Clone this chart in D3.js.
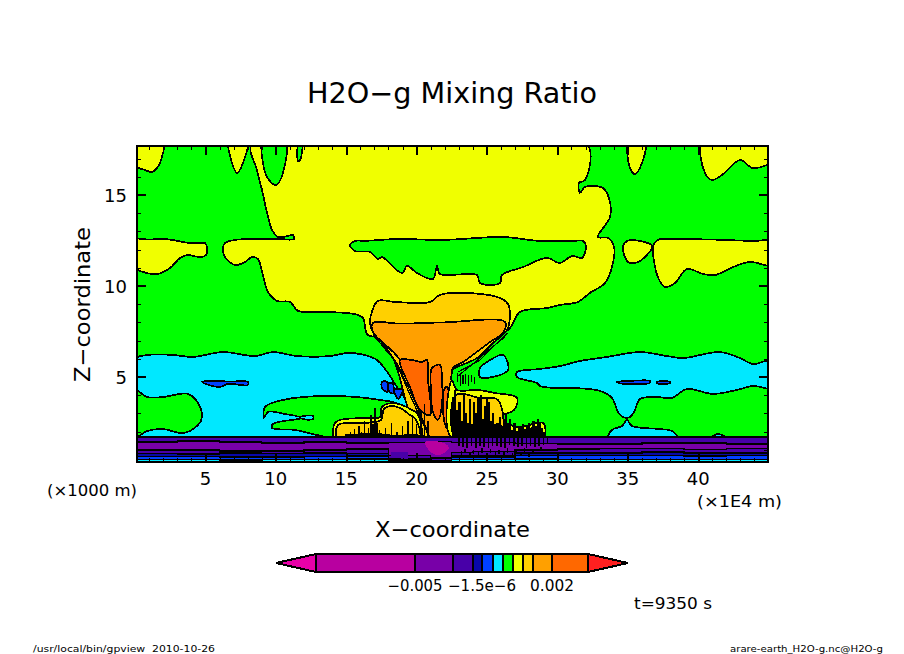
<!DOCTYPE html>
<html>
<head>
<meta charset="utf-8">
<script src="https://cdn.jsdelivr.net/npm/d3@7"></script>
<style>
  html, body { margin: 0; padding: 0; background: #fff; }
  text { font-family: "DejaVu Sans", sans-serif; fill: #000; }
</style>
</head>
<body>
<svg id="chart" width="904" height="654"></svg>
<script>
// tone colours, low to high
const MAGENTA = "#b800a0", PURPLE = "#7800a8", VIOLET = "#4800a8", NAVY = "#0808a8", BLUE = "#0040ff";
const CYAN = "#00e8ff", GREEN = "#00ff00", YELLOW = "#f0ff00", GOLD = "#ffd000", ORANGE = "#ffa000", DARKORANGE = "#ff6800";

const colorbarColors = [MAGENTA, PURPLE, VIOLET, NAVY, BLUE, CYAN, GREEN, YELLOW, GOLD, ORANGE, DARKORANGE];
const colorbarLevels = [-0.01, -0.005, -0.002, -0.0005, -1.5e-6, 1e-4, 3e-4, 5e-4, 8e-4, 0.001, 0.002, 0.005];
const colorbarLabels = [[-0.005, "−0.005", 55], [-1.5e-6, "−1.5e−6", 68], [0.002, "0.002", 44]];

const xMajor = [5, 10, 15, 20, 25, 30, 35, 40];
const zMajor = [5, 10, 15];

// contour regions, [x (1E4 m), z (1000 m)]
const yellowMain = [[8.31,17.8],[8.66,16.37],[9.02,15.27],[9.38,14.01],[9.73,13.08],[10.16,12.69],[10.7,12.72],[11.22,12.8],[11.29,12.58],[10.16,12.58],[7.1,12.53],[6.39,12.36],[6.25,12.14],[6.39,11.59],[7.1,11.15],[7.81,11.32],[8.31,11.59],[8.74,11.48],[9.02,10.77],[9.45,9.67],[10.09,9.18],[11.01,9.12],[11.58,8.63],[13.85,8.57],[16.12,8.3],[16.55,7.31],[18.82,7.31],[25.92,7.31],[26.63,7.69],[27.34,8.57],[29.26,8.79],[30.18,8.96],[31.46,9.12],[32.31,9.62],[33.38,10.16],[33.88,11.04],[34.02,12.14],[33.59,12.64],[32.88,12.69],[33.74,13.79],[33.66,14.84],[33.24,15.38],[31.96,15.44],[31.6,15.11],[31.53,15.66],[31.96,15.82],[32.1,17.8],[20,18.2]];
const yellowLeft = [[-0.2,12.53],[1,12.55],[2.13,12.58],[3.91,12.36],[4.6,12.36],[4.97,12.36],[5.11,12.14],[5.04,11.7],[4.62,11.59],[3.69,11.7],[3.2,11.54],[2.49,10.99],[1.63,10.66],[0.85,10.71],[-0.2,11.1]];
const yellowTopLeft = [[-0.2,18],[1.99,18],[1.85,16.92],[1.56,16.48],[1.21,16.26],[0.71,16.37],[-0.2,16.7]];
const yellowTop2 = [[6.68,18],[6.89,16.76],[7.24,16.21],[7.67,16.76],[7.95,18]];
const yellowTop3 = [[35.09,18],[35.16,16.48],[35.51,16.15],[36.01,16.76],[36.22,18]];
const yellowTopRight = [[40.34,18],[40.48,16.21],[40.98,15.82],[41.69,16.1],[42.97,16.92],[43.89,16.48],[45.3,16.9],[45.3,18]];
const yellowMidRight = [[37.29,12.58],[37.8,12.58],[41,12.55],[44,12.47],[45.3,12.47],[45.3,11.15],[43.68,11.32],[42.47,11.04],[41.19,10.6],[40.34,10.66],[39.2,10.93],[38.35,10.16],[37.64,9.95],[37.14,10.49],[36.79,12.14],[36.95,12.4]];
const yellowMidSmall = [[34.94,12.47],[35.87,12.47],[36.72,12.2],[36.36,11.7],[35.51,11.26],[35.01,11.32],[34.66,12.14]];
const greenPatchTop = [[9.09,18],[10.65,18],[10.51,16.21],[10.01,15.55],[9.38,15.99],[9.09,16.76]];
const greenSliver = [[11.65,18],[11.86,18],[11.72,16.92],[11.58,16.87]];
const greenPatchMid = [[15.27,12.25],[15.62,12.47],[16.4,12.48],[18.61,12.58],[21.88,12.53],[26.14,12.69],[28.76,12.47],[31,12.47],[31.82,12.47],[32.03,12.2],[31.75,11.54],[31.04,11.65],[30.18,11.26],[29.26,11.54],[27.56,11.04],[26.07,10.6],[25.92,10.16],[24.5,10.16],[24.29,10.6],[21.66,10.66],[21.45,11.1],[21.16,10.38],[20.03,10.71],[19.32,11.1],[18.96,10.71],[17.54,11.59],[17.26,11.48],[16.69,11.87],[15.62,11.92]];

const cyanLeft = [[-0.2,5.9],[0.92,6.21],[2.7,6.21],[4.12,6.1],[6.25,6.37],[8.52,6.15],[9.8,6.37],[11.51,6.15],[13.85,6.15],[15.06,6.32],[15.98,6.26],[17.19,5.93],[18.61,4.45],[19.53,3.3],[20.1,1.6],[10,1.4],[-0.2,1.6]];
const cyanRight = [[27.13,5.27],[28.76,5.44],[30.18,5.6],[31.6,5.88],[33.52,6.1],[35.87,6.37],[37.78,6.15],[38.92,6.04],[41.55,6.37],[42.97,6.04],[43.89,5.71],[45.3,5.9],[45.3,4.4],[43.89,4.51],[42.76,4.29],[41.05,4.07],[39.2,4.34],[38.14,3.85],[37.07,3.9],[35.87,3.79],[35.51,3.19],[35.16,2.8],[34.66,2.8],[34.3,3.08],[33.88,3.85],[33.03,4.23],[31.11,4.4],[29.69,4.4],[28.76,4.51],[28.55,4.67],[27.13,5.0]];
const cyanNearCloud = [[24.5,5.49],[25,5.82],[26.14,6.21],[26.49,5.38],[25,4.95],[24.5,5.0]];
const cyanBump = [[33.59,1.6],[33.88,2.09],[34.59,2.31],[34.94,2.64],[35.3,2.31],[37.29,2.14],[38.14,2.03],[38.57,1.6]];
const cyanBump2 = [[40.84,1.6],[41.41,1.87],[42.12,1.6]];
const greenBlob = [[-0.2,4.4],[0.85,3.9],[1.99,3.9],[3.76,4.07],[4.47,3.57],[4.76,2.8],[4.47,2.36],[3.41,1.92],[1.99,2.14],[0.85,2.03],[-0.2,1.6]];
const greenArm = [[9.16,2.75],[9.23,3.35],[10.51,3.74],[13.85,3.96],[17.4,3.74],[18.82,3.46],[19.53,2.36],[19.53,1.6],[14.35,1.6],[12.93,1.81],[11.36,2.09],[9.73,2.2],[9.8,2.42],[11.58,2.69],[11.93,2.75],[10.65,2.97],[9.45,3.08]];
const cyanTip = [[11.72,2.8],[12.64,2.86],[12.64,2.69],[11.93,2.69]];

const blueLeft = [[4.76,4.73],[5.04,4.78],[6.75,4.75],[8.03,4.73],[8.0,4.56],[6.6,4.62],[6.04,4.45],[5.25,4.56]];
const blueRight = [[34.23,4.73],[35.51,4.8],[36.58,4.78],[36.58,4.68],[35.5,4.6],[34.65,4.62]];
const blueRight2 = [[37.07,4.73],[37.99,4.73],[37.99,4.66],[37.07,4.66]];
const blueCloud1 = [[17.54,4.73],[17.9,4.73],[17.9,4.18],[17.54,4.4]];
const blueCloud2 = [[18.04,4.67],[18.32,4.62],[18.32,4.1],[18.04,4.2]];
const blueCloud3 = [[18.4,4.3],[19.0,4.3],[18.7,3.8]];

const cloudGold = [[16.69,7.97],[16.83,8.6],[17.26,9.18],[18.5,9.12],[20.95,9.12],[21.66,9.51],[23.3,9.62],[25.92,9.34],[26.5,9.0],[26.63,8.57],[26.42,7.58],[25.43,6.87],[24.29,6.04],[22.87,5.55],[22.51,5.38],[22.51,1.6],[20.24,1.9],[18.32,6.04],[16.83,7.58]];
const cloudOrange = [[16.9,7.97],[18.82,7.93],[22,8.0],[26.28,8.02],[26.14,7.42],[25.21,6.92],[23.3,5.82],[22.58,5.49],[22.51,1.6],[21.09,1.6],[20.6,2.25],[18.82,5.93],[16.9,7.47]];
const cloudDark = [[18.82,5.93],[19.67,5.93],[20.38,5.82],[20.74,5.93],[20.81,4.84],[20.95,2.91],[20.24,3.19],[19.53,4.45]];
const cloudBlob = [[21.09,5.49],[21.66,5.66],[21.8,4.84],[21.8,3.46],[21.52,2.64],[21.16,3.08],[21.02,4.29]];
const cloudBlob2 = [[21.95,4.29],[22.16,4.45],[22.3,3.19],[22.16,2.2],[21.95,2.64]];
const yellowLowLeft = [[14.2,2.47],[14.55,2.64],[16.19,2.75],[17.4,2.8],[17.54,3.35],[18.25,3.57],[18.96,3.46],[19.67,3.19],[20.03,3.02],[20.24,1.6],[14.2,1.6]];
const goldLowLeft = [[14.42,2.36],[16.34,2.47],[17.47,2.64],[17.68,3.24],[18.25,3.41],[18.96,3.24],[19.53,2.91],[19.96,2.64],[20.17,1.6],[14.42,1.6]];
const yellowLowRight = [[22.51,4.84],[22.87,4.29],[24.29,4.29],[25.57,4.12],[27.13,3.85],[26.92,3.19],[25.92,2.8],[27.13,2.25],[28.98,2.47],[28.98,1.6],[22.51,1.6]];
const goldLowRight = [[22.8,4.01],[24.5,3.85],[25.78,3.74],[25.92,1.6],[22.8,1.6]];
// solid black where the contours run together
const blackBaseRight = [[22.6,1.6],[22.6,2.3],[23.4,2.1],[24.2,2.4],[25,2.2],[25.8,2.5],[26.5,2.1],[27.2,2.05],[28,2.2],[28.6,2.3],[29.1,1.9],[29.1,1.6]];
const blackBaseLeft = [[14.9,1.6],[14.9,1.85],[17,1.95],[18.5,1.8],[20,1.9],[20.5,1.6]];

// extra contour lines packed along the cloud edge
const edgeLines = [
  [[17.76,6.48],[18.47,5.93],[19.53,4.01],[20.6,2.2]],
  [[16.9,7.31],[17.97,6.37],[18.68,5.66],[19.82,3.74],[20.81,1.98]],
  [[26.49,7.42],[25.57,6.76],[24.5,5.93],[22.94,5.27]],
  [[26.28,7.2],[25.21,6.54],[24.15,5.82],[22.94,5.05]]
];

// black streaks of tight contours above the boundary layer
const leftSpikeX = [15.3,15.6,15.9,16.1,16.3,16.6,16.75,16.9,17.05,17.2,17.35,17.8,18.2,18.6,19.0,19.4,19.7,20.0,20.3,20.55,20.8];
const leftSpikeTop = [2.0,2.15,2.3,2.0,2.6,2.2,2.9,2.4,3.3,2.5,2.1,2.2,2.5,2.0,2.3,2.6,2.9,2.4,3.1,3.5,2.6];
const rightSpikeX = [22.6,22.75,22.9,23.05,23.2,23.35,23.5,23.65,23.8,23.95,24.1,24.25,24.4,24.55,24.7,24.85,25.0,25.15,25.3,25.45,25.6,25.75,25.9,26.05,26.2,26.35,26.5,26.65,26.8,26.95,27.1,27.25,27.4,27.55,27.7,27.85,28,28.15,28.3,28.45,28.6,28.75,28.9,29.05];
const rightSpikeTop = [3.9,4.3,3.2,3.6,2.6,4.1,3.0,2.5,3.8,2.4,3.6,3.0,3.9,4.0,2.7,3.4,3.9,3.6,2.6,3.0,2.3,2.4,2.8,2.2,2.7,3.0,2.4,2.7,2.1,2.5,2.0,2.3,2.2,2.4,2.0,2.35,2.5,2.2,2.6,2.3,2.7,2.5,2.2,1.9];
const streakX = [22.9,23.1,23.3,23.5,23.7,23.9,24.1];
const streakLow = [4.7,4.5,4.6,4.6,4.5,4.7,4.6];
const streakHigh = [5.2,5.2,5.1,5.15,5.1,5.1,5.0];

// boundary layer strips, tops at each station
const stripX = [0.14,3,6,9,12,15,18,21,22.5,24,27,30,33,36,39,42,44.96];
const stripViolet = [1.72,1.72,1.72,1.72,1.72,1.72,1.72,1.72,1.72,1.72,1.72,1.72,1.72,1.72,1.72,1.72,1.72];
const stripPurple = [1.43,1.48,1.43,1.37,1.43,1.37,1.4,1.45,1.4,1.4,1.35,1.32,1.32,1.37,1.37,1.32,1.32];
const stripViolet2 = [0.98,0.98,0.93,0.93,0.98,1.04,0.7,0.55,0.85,0.9,1.0,1.04,1.07,1.07,1.02,1.07,1.07];
const stripNavy = [0.8,0.76,0.82,0.8,0.82,0.8,0.5,0.42,0.7,0.7,0.82,0.82,0.82,0.87,0.82,0.82,0.82];
const stripBlue = [0.62,0.62,0.6,0.6,0.62,0.65,0.42,0.38,0.6,0.6,0.68,0.68,0.68,0.68,0.65,0.68,0.68];
const stripCyan = [0.47,0.47,0.45,0.47,0.47,0.5,0.36,0.35,0.47,0.47,0.5,0.47,0.47,0.47,0.47,0.47,0.47];
const magentaCore = [[20.6,1.43],[21.95,1.37],[22.3,1.1],[21.66,0.71],[21.0,0.87]];
const violetCore = [[18.2,0.87],[19.4,0.9],[19.4,0.5],[18.2,0.55]];
const noiseX = [23,23.3,23.6,23.9,24.2,24.5,24.8,25.1,25.4,25.7,26,26.3,26.6,26.9,27.2,27.5,27.8,28.1,28.4,28.7,29,29.3,23.2,23.8,24.4,25,25.6,26.2,26.8,27.4,28,23.45,24.05,24.65,25.25,25.85,26.45,27.05,27.65,28.25,28.85];
const noiseLow = [1.2,1.15,1.1,1.2,1.1,1.2,1.15,1.1,1.2,1.2,1.15,1.1,1.25,1.2,1.15,1.2,1.1,1.2,1.15,1.2,1.25,1.3,0.6,0.55,0.65,0.5,0.6,0.55,0.6,0.65,0.6,0.8,0.75,0.85,0.8,0.75,0.85,0.8,0.9,0.85,0.95];
const noiseHigh = [1.7,1.7,1.7,1.7,1.7,1.7,1.7,1.7,1.7,1.7,1.7,1.7,1.7,1.7,1.7,1.7,1.7,1.7,1.7,1.7,1.7,1.7,0.95,0.9,0.95,0.85,0.9,0.9,0.85,0.9,0.85,1.05,1.0,1.1,1.05,1.0,1.1,1.05,1.1,1.05,1.15];

const svg = d3.select("#chart");
const x = d3.scaleLinear().domain([0.14, 44.96]).range([137, 768]);
const y = d3.scaleLinear().domain([0.33, 17.69]).range([462, 146]);

svg.append("defs").append("clipPath").attr("id", "plot")
  .append("rect").attr("x", 137).attr("y", 146).attr("width", 631).attr("height", 316);

const plot = svg.append("g").attr("clip-path", "url(#plot)").attr("shape-rendering", "crispEdges");
const polyLine = d3.line().x(d => x(d[0])).y(d => y(d[1]));
const contour = d3.line().curve(d3.curveCatmullRomClosed.alpha(0.5)).x(d => x(d[0])).y(d => y(d[1]));

plot.append("rect").attr("x", 137).attr("y", 146).attr("width", 631).attr("height", 316).attr("fill", GREEN);

// painted back to front
const regions = [
  [yellowMain, YELLOW], [yellowLeft, YELLOW], [yellowTopLeft, YELLOW], [yellowTop2, YELLOW], [yellowTop3, YELLOW],
  [yellowTopRight, YELLOW], [yellowMidRight, YELLOW], [yellowMidSmall, YELLOW],
  [greenPatchTop, GREEN], [greenSliver, GREEN], [greenPatchMid, GREEN],
  [cyanLeft, CYAN], [cyanRight, CYAN], [cyanNearCloud, CYAN], [cyanBump, CYAN], [cyanBump2, CYAN],
  [greenBlob, GREEN], [greenArm, GREEN], [cyanTip, CYAN],
  [blueLeft, BLUE], [blueRight, BLUE], [blueRight2, BLUE], [blueCloud1, BLUE], [blueCloud2, BLUE], [blueCloud3, BLUE],
  [cloudGold, GOLD], [cloudOrange, ORANGE], [cloudDark, DARKORANGE], [cloudBlob, DARKORANGE], [cloudBlob2, DARKORANGE],
  [yellowLowLeft, YELLOW], [goldLowLeft, GOLD], [yellowLowRight, YELLOW], [goldLowRight, GOLD]
];
plot.selectAll(".region").data(regions).enter().append("path")
  .attr("class", "region")
  .attr("d", d => contour(d[0]))
  .attr("fill", d => d[1])
  .attr("stroke", "#000")
  .attr("stroke-width", 1.7);

plot.selectAll(".edge").data(edgeLines).enter().append("path")
  .attr("class", "edge")
  .attr("d", polyLine)
  .attr("fill", "none")
  .attr("stroke", "#000")
  .attr("stroke-width", 1.2);

plot.selectAll(".black").data([blackBaseRight, blackBaseLeft]).enter().append("path")
  .attr("class", "black")
  .attr("d", d => polyLine(d) + "Z")
  .attr("fill", "#000");

const segment = (xs, lows, highs, w) => {
  plot.append("g").selectAll("line").data(xs).enter().append("line")
    .attr("x1", d => x(d)).attr("x2", d => x(d))
    .attr("y1", (d, i) => y(lows[i])).attr("y2", (d, i) => y(highs[i]))
    .attr("stroke", "#000").attr("stroke-width", w);
};
segment(leftSpikeX, leftSpikeX.map(() => 1.7), leftSpikeTop, 1.5);
segment(rightSpikeX, rightSpikeX.map(() => 1.7), rightSpikeTop, 2.2);
segment(streakX, streakLow, streakHigh, 1.2);

// strips
const strips = [[stripViolet, VIOLET], [stripPurple, PURPLE], [stripViolet2, VIOLET], [stripNavy, NAVY], [stripBlue, BLUE], [stripCyan, CYAN]];
const stripArea = d3.area().curve(d3.curveStepAfter)
  .x((d, i) => x(stripX[i])).y0(y(0.33)).y1(d => y(d));
const stripTop = d3.line().curve(d3.curveStepAfter)
  .x((d, i) => x(stripX[i])).y(d => y(d));
strips.forEach(s => {
  plot.append("path").attr("d", stripArea(s[0])).attr("fill", s[1]);
  plot.append("path").attr("d", stripTop(s[0])).attr("fill", "none").attr("stroke", "#000").attr("stroke-width", 1.4);
});
plot.append("path").attr("d", polyLine(violetCore) + "Z").attr("fill", VIOLET);
plot.append("path").attr("d", contour(magentaCore)).attr("fill", MAGENTA);
plot.append("line")
  .attr("x1", x(0.14)).attr("x2", x(44.96)).attr("y1", y(1.72)).attr("y2", y(1.72))
  .attr("stroke", "#000").attr("stroke-width", 2.2);
segment(noiseX, noiseLow, noiseHigh, 1.6);

// frame and ticks
const frame = svg.append("g").attr("shape-rendering", "crispEdges");
const xMinor = d3.range(1, 45), zMinor = d3.range(1, 18);
const addAxis = (axis, translate, values, size) => {
  const g = frame.append("g").attr("transform", translate)
    .call(axis.tickValues(values).tickSize(size).tickFormat(""));
  g.select(".domain").remove();
  g.selectAll("line").attr("stroke", "#000");
  return g;
};
addAxis(d3.axisBottom(x), "translate(0,462)", xMinor, -4);
addAxis(d3.axisTop(x), "translate(0,146)", xMinor, -4);
addAxis(d3.axisLeft(y), "translate(137,0)", zMinor, -4);
addAxis(d3.axisRight(y), "translate(768,0)", zMinor, -4);
addAxis(d3.axisBottom(x), "translate(0,462)", xMajor, -9).selectAll("line").attr("stroke-width", 2);
addAxis(d3.axisTop(x), "translate(0,146)", xMajor, -9).selectAll("line").attr("stroke-width", 2);
addAxis(d3.axisLeft(y), "translate(137,0)", zMajor, -9).selectAll("line").attr("stroke-width", 2);
addAxis(d3.axisRight(y), "translate(768,0)", zMajor, -9).selectAll("line").attr("stroke-width", 2);
frame.append("rect").attr("x", 137).attr("y", 146).attr("width", 631).attr("height", 316)
  .attr("fill", "none").attr("stroke", "#000").attr("stroke-width", 2);

// text helper, width forced so long labels line up with the reference
const label = (str, px, py, size, anchor, len) => {
  const t = svg.append("text").attr("x", px).attr("y", py).attr("font-size", size)
    .attr("text-anchor", anchor || "start").text(str);
  if (len) t.attr("textLength", len).attr("lengthAdjust", "spacingAndGlyphs");
  return t;
};

xMajor.forEach(v => label(v, x(v), 485, 18, "middle"));
zMajor.forEach(v => label(v, 127, y(v) + 7, 18, "end"));

label("H2O−g Mixing Ratio", 307, 103, 28, "start", 290);
label("X−coordinate", 375, 537, 22, "start", 155);
label("Z−coordinate", 0, 0, 22, "start", 155)
  .attr("transform", "translate(90,382) rotate(-90)");
label("(×1000 m)", 47, 496, 15, "start", 90);
label("(×1E4 m)", 697, 507, 15, "start", 85);
label("t=9350 s", 634, 609, 15, "start", 78);
label("/usr/local/bin/gpview  2010-10-26", 33, 652, 9.5, "start", 182).style("white-space", "pre");
label("arare-earth_H2O-g.nc@H2O-g", 730, 652, 9.5, "start", 153);

// colour bar
const barStops = [316, 415, 453, 473, 482, 493, 503, 513, 523, 533, 552, 588];
const cx = d3.scaleLinear().domain(colorbarLevels).range(barStops);
const barTop = 554, barBottom = 572, barMid = 563;
const bar = svg.append("g").attr("shape-rendering", "crispEdges");
bar.selectAll("rect").data(colorbarColors).enter().append("rect")
  .attr("x", (d, i) => cx(colorbarLevels[i]))
  .attr("width", (d, i) => cx(colorbarLevels[i + 1]) - cx(colorbarLevels[i]))
  .attr("y", barTop).attr("height", barBottom - barTop)
  .attr("fill", d => d)
  .attr("stroke", "#000").attr("stroke-width", 2);
const tip = (xBase, xEnd, fill) => bar.append("path")
  .attr("d", `M${xBase},${barTop}L${xEnd},${barMid}L${xBase},${barBottom}Z`)
  .attr("fill", fill).attr("stroke", "#000").attr("stroke-width", 2);
tip(cx(colorbarLevels[0]), 276, "#e800a8");
tip(cx(colorbarLevels[colorbarLevels.length - 1]), 628, "#ff2020");
colorbarLabels.forEach(d => label(d[1], cx(d[0]), 591, 15, "middle", d[2]));
</script>
</body>
</html>
